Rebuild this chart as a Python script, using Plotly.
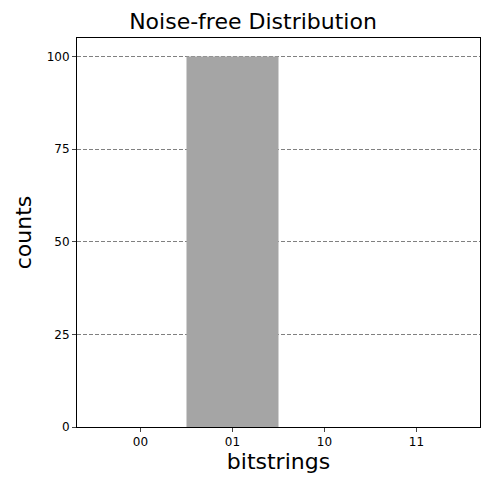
import plotly.graph_objects as go

bitstrings = ["00", "01", "10", "11"]
counts = [0, 100, 0, 0]
yticks = [0, 25, 50, 75, 100]

fig = go.Figure(go.Bar(
    x=list(range(len(bitstrings))), y=counts, width=1.0,
    marker=dict(color="#a5a5a5", line=dict(width=0)),
))

fig.update_layout(
    width=490, height=490,
    paper_bgcolor="white", plot_bgcolor="white",
    margin=dict(l=69, r=18, t=30, b=71),
    font=dict(family="DejaVu Sans", color="black", size=12),
    title=dict(text="Noise-free Distribution", x=0.5, xanchor="center",
               y=0.972, yanchor="middle", font=dict(size=22)),
    showlegend=False,
)
fig.update_xaxes(
    range=[-0.69, 3.69], tickvals=list(range(len(bitstrings))), ticktext=bitstrings,
    showgrid=False, ticks="outside", ticklen=4, showline=True, mirror=True,
    linecolor="black", linewidth=1, zeroline=False,
    title=dict(text="bitstrings", font=dict(size=22), standoff=5),
)
fig.update_yaxes(
    range=[0, 105], tickvals=yticks,
    showgrid=True, gridcolor="gray", griddash="4px,2px", gridwidth=1,
    ticks="outside", ticklen=4, showline=True, mirror=True,
    linecolor="black", linewidth=1, zeroline=False,
    title=dict(text="counts", font=dict(size=22), standoff=8),
)

fig.write_html("out.html")
